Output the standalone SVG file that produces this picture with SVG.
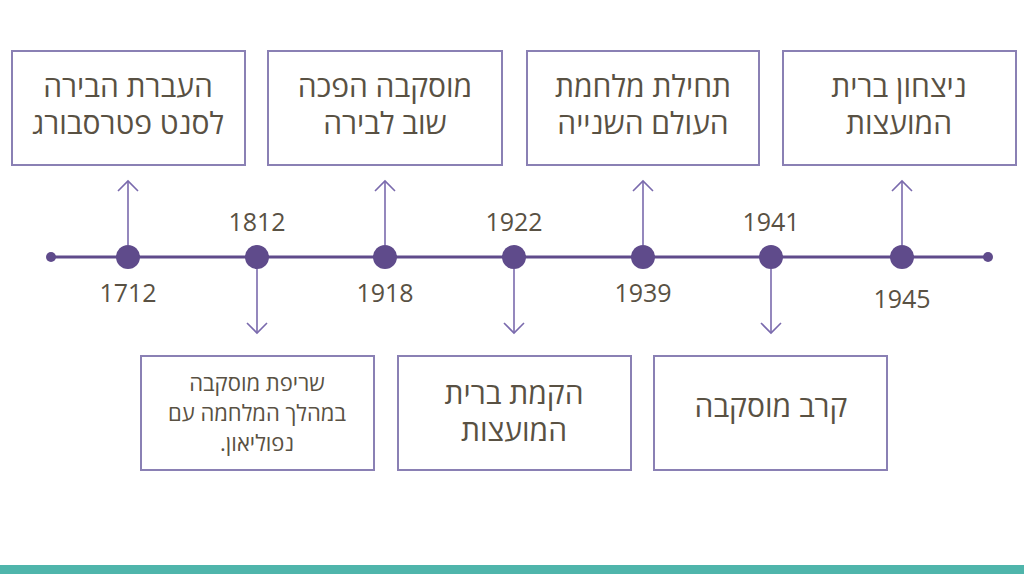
<svg xmlns="http://www.w3.org/2000/svg" width="1024" height="574" viewBox="0 0 1024 574">
<style>
.box{fill:#fff;stroke:#8a80b4;stroke-width:2}
.t{font-family:"Open Sans","Noto Sans","DejaVu Sans",sans-serif;fill:#595143;text-anchor:middle;direction:rtl}
.big{font-size:30px}
.small{font-size:22px}
.yr{font-family:"Open Sans","Noto Sans","DejaVu Sans",sans-serif;fill:#595143;text-anchor:middle;font-size:25px}
.axis{stroke:#5f4b8b;stroke-width:3;fill:none}
.dot{fill:#5f4b8b}
.arr{stroke:#7a6aad;stroke-width:1.6;fill:none;marker-end:url(#chev)}
</style>
<defs>
<marker id="chev" markerUnits="userSpaceOnUse" viewBox="-12 -12 14 24" markerWidth="14" markerHeight="24" refX="0" refY="0" orient="auto">
<path d="M-10,-10 L0,0 L-10,10" fill="none" stroke="#7a6aad" stroke-width="1.6"/>
</marker>
</defs>
<rect x="0" y="0" width="1024" height="574" fill="#fff"/>
<rect x="0" y="565" width="1024" height="9" fill="#4fb5ab"/>

<g id="connectors">
<line class="axis" x1="51" y1="257" x2="988" y2="257"/>
<path class="arr" d="M128,245 V181"/>
<path class="arr" d="M257,269 V333"/>
<path class="arr" d="M385,245 V181"/>
<path class="arr" d="M514,269 V333"/>
<path class="arr" d="M643,245 V181"/>
<path class="arr" d="M771,269 V333"/>
<path class="arr" d="M902,245 V181"/>
</g>

<g id="timeline">
<circle class="dot" cx="51" cy="257" r="5"/>
<circle class="dot" cx="988" cy="257" r="5"/>
<g id="y1712"><circle class="dot" cx="128" cy="257" r="12"/><text class="yr" x="128" y="302">1712</text></g>
<g id="y1812"><circle class="dot" cx="257" cy="257" r="12"/><text class="yr" x="257" y="231">1812</text></g>
<g id="y1918"><circle class="dot" cx="385" cy="257" r="12"/><text class="yr" x="385" y="302">1918</text></g>
<g id="y1922"><circle class="dot" cx="514" cy="257" r="12"/><text class="yr" x="514" y="231">1922</text></g>
<g id="y1939"><circle class="dot" cx="643" cy="257" r="12"/><text class="yr" x="643" y="302">1939</text></g>
<g id="y1941"><circle class="dot" cx="771" cy="257" r="12"/><text class="yr" x="771" y="231">1941</text></g>
<g id="y1945"><circle class="dot" cx="902" cy="257" r="12"/><text class="yr" x="902" y="308">1945</text></g>
</g>

<g id="box1712">
<rect class="box" x="12" y="51" width="233" height="114"/>
<text class="t big" x="128" y="97">העברת הבירה</text>
<text class="t big" x="128" y="134">לסנט פטרסבורג</text>
</g>
<g id="box1918">
<rect class="box" x="268" y="51" width="234" height="114"/>
<text class="t big" x="385" y="97">מוסקבה הפכה</text>
<text class="t big" x="385" y="134">שוב לבירה</text>
</g>
<g id="box1939">
<rect class="box" x="527" y="51" width="232" height="114"/>
<text class="t big" x="643" y="97">תחילת מלחמת</text>
<text class="t big" x="643" y="134">העולם השנייה</text>
</g>
<g id="box1945">
<rect class="box" x="783" y="51" width="233" height="114"/>
<text class="t big" x="899" y="97">ניצחון ברית</text>
<text class="t big" x="899" y="134">המועצות</text>
</g>
<g id="box1812">
<rect class="box" x="141" y="356" width="233" height="114"/>
<text class="t small" x="257" y="391">שריפת מוסקבה</text>
<text class="t small" x="257" y="421">במהלך המלחמה עם</text>
<text class="t small" x="257" y="451">נפוליאון.</text>
</g>
<g id="box1922">
<rect class="box" x="398" y="356" width="233" height="114"/>
<text class="t big" x="514" y="404">הקמת ברית</text>
<text class="t big" x="514" y="441">המועצות</text>
</g>
<g id="box1941">
<rect class="box" x="654" y="356" width="233" height="114"/>
<text class="t big" x="771" y="417">קרב מוסקבה</text>
</g>
</svg>
